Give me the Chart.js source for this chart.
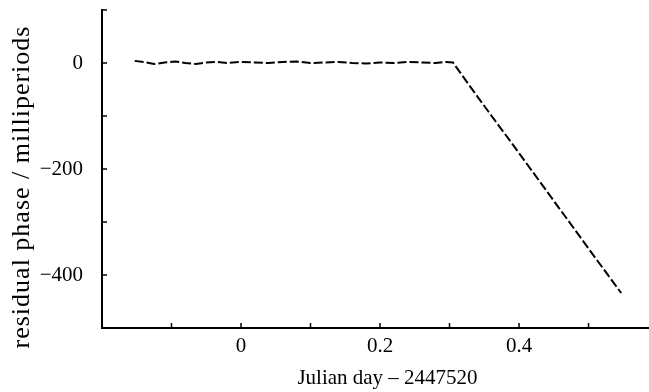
<!DOCTYPE html>
<html lang="en">
  <head>
    <meta charset="UTF-8" />
    <title>Residual phase</title>
    <script src="https://cdn.jsdelivr.net/npm/chart.js@4.4.1/dist/chart.umd.min.js"></script>
    <style>
      html,
      body {
        margin: 0;
        padding: 0;
        background: white;
      }
      .chart-container {
        width: 649px;
        height: 392px;
      }
    </style>
  </head>

  <body>
    <div class="chart-container">
      <canvas id="myChart"></canvas>
    </div>

    <script>
      // Julian day - 2447520
      const jd = [
        -0.153, -0.14, -0.125, -0.11, -0.095, -0.08, -0.065, -0.05, -0.035, -0.02,
        0, 0.02, 0.04, 0.06, 0.08, 0.1, 0.12, 0.14, 0.16, 0.18, 0.2, 0.22, 0.24,
        0.26, 0.28, 0.295, 0.305, 0.33, 0.36, 0.39, 0.42, 0.45, 0.48, 0.51, 0.547,
      ];
      // residual phase in milliperiods
      const phase = [
        4, 2, -2, 1, 3, 0, -2, 1, 2, 0,
        2, 1, 0, 2, 3, 0, 1, 2, 0, -1, 1, 0, 2,
        1, 0, 2, 1, -45, -99, -152, -206, -260, -314, -368, -434,
      ];
      const xLabels = [0, 0.2, 0.4];
      const yLabels = [0, -200, -400];
      const xTitle = "Julian day – 2447520";
      const yTitle = "residual phase / milliperiods";

      const serif = "'Liberation Serif', 'Times New Roman', serif";
      const font = { family: serif, size: 21 };

      // tick marks on the inside of both axes
      const innerTicks = {
        id: "innerTicks",
        afterDraw(chart) {
          const ctx = chart.ctx;
          const area = chart.chartArea;
          const x = chart.scales.x;
          const y = chart.scales.y;
          ctx.save();
          ctx.strokeStyle = "black";
          ctx.lineWidth = 1.5;
          ctx.beginPath();
          x.ticks.forEach((t) => {
            const px = x.getPixelForValue(t.value);
            if (px <= area.left + 1) return;
            ctx.moveTo(px, area.bottom);
            ctx.lineTo(px, area.bottom - 5);
          });
          y.ticks.forEach((t) => {
            const py = y.getPixelForValue(t.value);
            if (py >= area.bottom - 1) return;
            ctx.moveTo(area.left, py);
            ctx.lineTo(area.left + 5, py);
          });
          ctx.stroke();
          ctx.restore();
        },
      };

      // axis titles, drawn by hand so the spacing can be set
      const axisTitles = {
        id: "axisTitles",
        afterDraw(chart) {
          const ctx = chart.ctx;
          const area = chart.chartArea;
          ctx.save();
          ctx.fillStyle = "black";
          ctx.textAlign = "center";
          ctx.textBaseline = "middle";
          ctx.font = "21px " + serif;
          ctx.fillText(xTitle, (area.left + area.right) / 2 + 12, 378);
          ctx.translate(22, (area.top + area.bottom) / 2 + 18);
          ctx.rotate(-Math.PI / 2);
          ctx.font = "26px " + serif;
          ctx.letterSpacing = "1px";
          ctx.fillText(yTitle, 0, 0);
          ctx.restore();
        },
      };

      // keep the plot area fixed: no extra room for end labels
      const noPad = (scale) => {
        scale.paddingTop = 0;
        scale.paddingBottom = 0;
        scale.paddingLeft = 0;
        scale.paddingRight = 0;
      };

      const ctx = document.getElementById("myChart").getContext("2d");
      const myChart = new Chart(ctx, {
        type: "line",
        data: {
          datasets: [
            {
              data: jd.map((v, i) => ({ x: v, y: phase[i] })),
              borderColor: "black",
              borderWidth: 2,
              borderDash: [9, 3],
              pointRadius: 0,
              tension: 0,
            },
          ],
        },
        options: {
          responsive: true,
          maintainAspectRatio: false,
          animation: false,
          layout: {
            padding: { top: 10, right: 0, left: 0, bottom: 0 },
          },
          scales: {
            x: {
              type: "linear",
              min: -0.2,
              max: 0.587,
              grid: { display: false, drawTicks: false },
              border: { color: "black", width: 2 },
              ticks: {
                stepSize: 0.1,
                includeBounds: false,
                autoSkip: false,
                maxRotation: 0,
                color: "black",
                font: font,
                padding: 6,
                callback: (v) => {
                  const hit = xLabels.find((l) => Math.abs(l - v) < 1e-6);
                  return hit === undefined ? "" : String(hit);
                },
              },
              afterFit: (scale) => {
                scale.height = 64;
                noPad(scale);
              },
            },
            y: {
              min: -500,
              max: 100,
              grid: { display: false, drawTicks: false },
              border: { color: "black", width: 2 },
              ticks: {
                stepSize: 100,
                autoSkip: false,
                color: "black",
                font: font,
                padding: 19,
                callback: (v) =>
                  yLabels.includes(v) ? String(v).replace("-", "\u2212") : "",
              },
              afterFit: (scale) => {
                scale.width = 102;
                noPad(scale);
              },
            },
          },
          plugins: {
            legend: { display: false },
            tooltip: { enabled: false },
          },
        },
        plugins: [innerTicks, axisTitles],
      });
    </script>
  </body>
</html>
